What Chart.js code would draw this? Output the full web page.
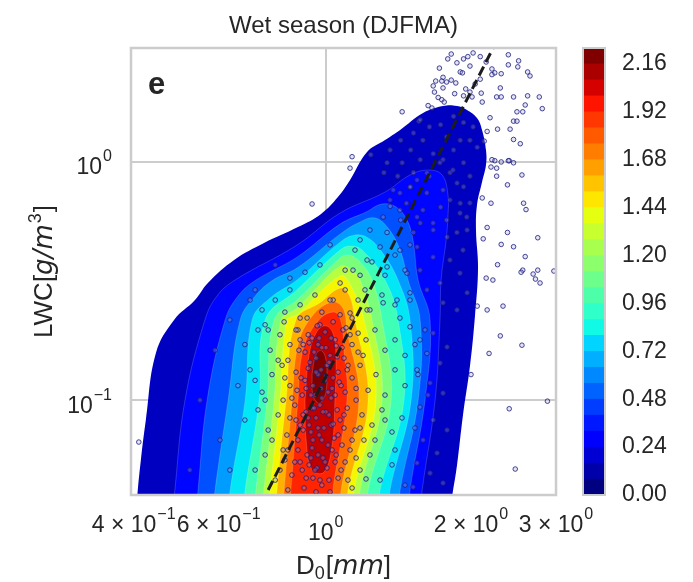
<!DOCTYPE html>
<html>
<head>
<meta charset="utf-8">
<script src="https://cdn.jsdelivr.net/npm/chart.js@4.4.1/dist/chart.umd.min.js"></script>
<style>
  html, body { margin: 0; padding: 0; background: #fff; }
  #wrap { position: relative; width: 693px; height: 582px; }
  #main { position: absolute; left: 0; top: 0; }
  #cbar { position: absolute; left: 575px; top: 0; }
</style>
</head>
<body>
<div id="wrap">
  <canvas id="main" width="693" height="582"></canvas>
  <canvas id="cbar" width="118" height="582"></canvas>
</div>
<script>
// ---- axes ----
const xRange = [0.395, 3.0];
const yRange = [0.04, 3.0];
const xGridValues = [1];
const yGridValues = [0.1, 1];
const xTickValues = [0.4, 0.6, 1, 2, 3];
const xTickMantissa = ['4 × 10', '6 × 10', '10', '2 × 10', '3 × 10'];
const xTickExponent = ['−1', '−1', '0', '0', '0'];
const yTickValues = [0.1, 1];
const yTickMantissa = ['10', '10'];
const yTickExponent = ['−1', '0'];

// ---- KDE colour levels ----
const colorbarLevels = [0, 0.08, 0.16, 0.24, 0.32, 0.40, 0.48, 0.56, 0.64, 0.72, 0.80, 0.88, 0.96, 1.04,
  1.12, 1.20, 1.28, 1.36, 1.44, 1.52, 1.60, 1.68, 1.76, 1.84, 1.92, 2.00, 2.08, 2.16, 2.24];
const colorbarTicks = [0, 0.24, 0.48, 0.72, 0.96, 1.20, 1.44, 1.68, 1.92, 2.16];
const contourLevels = [0.08, 0.24, 0.40, 0.56, 0.72, 0.88, 1.04, 1.20, 1.36, 1.52, 1.68, 1.84, 2.00, 2.16];

// density contours, [D0, LWC] around each level (outermost first)
const level008 = [[0.403,0.030],[0.408,0.042],[0.414,0.056],[0.424,0.0825],[0.445,0.158],[0.485,0.217],[0.536,0.263],
  [0.570,0.310],[0.646,0.387],[0.745,0.456],[0.876,0.532],[0.978,0.604],[1.060,0.711],[1.123,0.838],[1.218,1.098],
  [1.327,1.233],[1.426,1.359],[1.591,1.601],[1.750,1.713],[1.871,1.713],[1.962,1.648],[2.058,1.525],[2.108,1.359],
  [2.148,1.120],[2.148,0.969],[2.108,0.822],[2.058,0.658],[2.048,0.517],[2.068,0.358],[2.039,0.228],[1.991,0.140],
  [1.925,0.0866],[1.871,0.0534],[1.827,0.0392],[1.792,0.030]];
const level024 = [[0.480,0.030],[0.487,0.042],[0.511,0.100],[0.562,0.217],[0.595,0.273],[0.649,0.319],[0.872,0.447],
  [1.071,0.609],[1.327,0.746],[1.495,0.880],[1.630,0.923],[1.742,0.880],[1.792,0.725],[1.792,0.598],[1.776,0.469],
  [1.734,0.319],[1.725,0.217],[1.685,0.100],[1.584,0.042],[1.554,0.030]];
const level040 = [[0.536,0.030],[0.544,0.042],[0.568,0.100],[0.619,0.217],[0.658,0.273],[0.717,0.319],[0.872,0.398],
  [1.071,0.548],[1.212,0.615],[1.308,0.665],[1.399,0.646],[1.474,0.569],[1.517,0.469],[1.554,0.319],[1.645,0.217],
  [1.606,0.100],[1.495,0.042],[1.474,0.030]];
const level056 = [[0.581,0.030],[0.590,0.042],[0.628,0.100],[0.665,0.217],[0.714,0.273],[0.778,0.319],[0.872,0.358],
  [1.071,0.497],[1.178,0.559],[1.265,0.581],[1.346,0.527],[1.426,0.426],[1.481,0.319],[1.569,0.217],[1.554,0.100],
  [1.426,0.042],[1.405,0.030]];
const level072 = [[0.625,0.030],[0.634,0.042],[0.681,0.100],[0.704,0.217],[0.767,0.268],[0.872,0.319],[1.071,0.460],
  [1.150,0.493],[1.224,0.479],[1.308,0.418],[1.412,0.319],[1.495,0.217],[1.503,0.100],[1.359,0.042],[1.340,0.030]];
const level088 = [[0.671,0.030],[0.681,0.042],[0.728,0.100],[0.749,0.217],[0.872,0.290],[1.071,0.426],[1.123,0.443],
  [1.189,0.426],[1.327,0.319],[1.412,0.217],[1.453,0.100],[1.296,0.042],[1.278,0.030]];
const level104 = [[0.707,0.030],[0.717,0.042],[0.756,0.100],[0.782,0.217],[0.872,0.263],[1.071,0.395],[1.112,0.406],
  [1.167,0.387],[1.247,0.319],[1.308,0.217],[1.366,0.100],[1.224,0.042],[1.212,0.030]];
const level120 = [[0.735,0.030],[0.745,0.042],[0.782,0.100],[0.808,0.217],[0.872,0.243],[1.071,0.365],[1.134,0.351],
  [1.178,0.319],[1.247,0.217],[1.308,0.100],[1.178,0.042],[1.167,0.030]];
const level136 = [[0.756,0.030],[0.767,0.042],[0.804,0.100],[0.831,0.217],[0.872,0.228],[1.071,0.332],[1.123,0.307],
  [1.201,0.217],[1.271,0.100],[1.145,0.042],[1.134,0.030]];
const level152 = [[0.785,0.030],[0.793,0.042],[0.828,0.100],[0.868,0.217],[0.973,0.256],[1.071,0.295],[1.118,0.276],
  [1.150,0.217],[1.224,0.100],[1.112,0.042],[1.102,0.030]];
const level168 = [[0.808,0.030],[0.820,0.042],[0.852,0.100],[0.876,0.170],[0.937,0.225],[1.031,0.258],[1.086,0.243],
  [1.107,0.197],[1.172,0.100],[1.076,0.042],[1.066,0.030]];
const level184 = [[0.835,0.030],[0.847,0.042],[0.876,0.100],[0.897,0.162],[0.964,0.215],[1.040,0.234],[1.076,0.213],
  [1.091,0.162],[1.107,0.100],[1.035,0.042],[1.026,0.030]];
const level200 = [[0.906,0.100],[0.924,0.155],[0.955,0.191],[0.997,0.205],[1.035,0.191],[1.050,0.155],[1.045,0.100],
  [1.031,0.0648],[0.992,0.0499],[0.937,0.0509],[0.911,0.068]];
const level216 = [[0.937,0.128],[0.950,0.151],[0.973,0.162],[0.997,0.153],[1.006,0.128],[0.997,0.105],[0.969,0.097],
  [0.941,0.105]];
const contourPaths = [level008, level024, level040, level056, level072, level088, level104, level120,
  level136, level152, level168, level184, level200, level216];

// ---- observations: D0 [mm], LWC [g/m3] ----
const outsidePoints = [[1.82,2.83],[1.79,2.70],[1.87,2.60],[1.93,2.70],[1.97,2.76],[2.02,2.86],[2.09,2.76],[2.39,2.81],
  [2.51,2.65],[2.39,2.55],[2.50,2.50],[2.62,2.38],[2.65,2.29],[2.21,2.45],[2.24,2.36],[2.31,2.34],[2.21,2.32],[1.90,2.38],
  [1.92,2.36],[1.72,2.47],[1.75,2.26],[1.69,2.18],[1.74,2.18],[1.78,2.16],[1.82,2.20],[1.86,2.14],[1.67,2.08],[1.68,1.96],
  [1.75,2.04],[1.95,2.02],[1.99,1.96],[2.04,2.12],[2.09,2.22],[2.10,1.94],[1.85,1.93],[1.93,1.89],[2.01,1.87],[1.71,1.86],
  [1.74,1.82],[1.76,1.78],[1.63,1.72],[1.66,1.68],[1.44,1.62],[1.56,1.48],[2.30,2.04],[2.26,1.87],[2.31,1.87],[2.45,1.87],
  [2.62,1.89],[2.77,1.87],[2.59,1.73],[2.81,1.67],[2.49,1.62],[2.56,1.62],[2.11,1.78],[2.19,1.53],[2.45,1.48],[2.49,1.48],
  [2.41,1.37],[2.27,1.37],[2.16,1.34],[2.45,1.24],[2.53,1.19],[2.13,1.22],[2.24,1.01],[2.31,0.998],[2.40,1.01],[2.45,0.99],
  [2.26,0.94],[2.26,0.87],[2.55,0.88],[2.38,0.80],[2.11,0.705],[2.20,0.67],[2.57,0.67],[2.60,0.63],[2.16,0.53],[2.38,0.505],
  [2.75,0.48],[2.12,0.475],[2.31,0.45],[2.45,0.44],[2.59,0.40],[2.27,0.37],[2.15,0.325],[2.22,0.319],[2.56,0.351],
  [2.54,0.344],[2.69,0.338],[2.75,0.351],[2.72,0.322],[2.78,0.31],[2.97,0.348],[2.33,0.248],[2.16,0.239],[2.06,0.248],
  [2.30,0.186],[2.55,0.170],[2.18,0.157],[2.00,0.128],[2.88,0.099],[2.40,0.092],[2.47,0.0514],[0.937,0.665],[1.134,1.05],
  [1.24,1.07],[1.123,0.94],[0.41,0.0667],[2.21,1.02],[2.39,1.01],[2.20,0.95],[2.15,2.62],[1.99,2.52]];
const upperPoints = [[1.57,1.50],[1.64,1.40],[1.73,1.43],[1.84,1.55],[1.93,1.46],[2.02,1.40],[1.52,1.32],[1.43,1.23],
  [1.59,1.23],[1.78,1.27],[1.90,1.23],[1.99,1.23],[1.36,1.12],[1.50,1.12],[1.67,1.08],[1.84,1.12],[2.06,1.15],[1.34,0.99],
  [1.44,0.99],[1.57,1.02],[1.75,1.02],[1.93,0.99],[1.32,0.90],[1.41,0.87],[1.52,0.90],[1.64,0.87],[1.81,0.90],[1.99,0.87],
  [1.38,0.761],[1.50,0.785],[1.62,0.74],[1.75,0.761],[1.93,0.785],[1.36,0.65],[1.47,0.67],[1.59,0.627],[1.73,0.645],
  [1.90,0.67],[1.43,0.569],[1.57,0.553],[1.78,0.569],[1.96,0.586],[1.34,0.505],[1.52,0.505],[1.67,0.517],[1.87,0.505],
  [1.359,0.691],[1.425,0.739],[1.495,0.783],[1.546,0.838],[1.621,0.897],[1.725,0.991],[1.835,0.923],[1.871,0.814],
  [1.809,0.691],[1.898,0.609],[1.963,0.517],[1.784,0.483],[1.669,0.553],[1.546,0.586],[1.425,0.627],[1.315,0.586],
  [1.235,0.517],[1.178,0.470],[1.296,0.439],[1.425,0.426],[1.546,0.439],[1.669,0.398],[1.809,0.387],[1.898,0.341],
  [1.725,0.310],[1.621,0.290],[1.495,0.282],[1.405,0.263],[1.315,0.256],[1.218,0.239],[1.123,0.232],[1.036,0.263],
  [1.071,0.310],[1.139,0.351],[1.218,0.387],[1.340,0.362],[1.474,0.341],[1.568,0.351],[1.750,0.256],[1.871,0.239],
  [1.963,0.282],[1.925,0.426],[1.990,0.671]];
const rightPoints = [[1.495,0.203],[1.568,0.179],[1.669,0.191],[1.621,0.157],[1.725,0.143],[1.784,0.167],[1.546,0.134],
  [1.645,0.118],[1.750,0.107],[1.568,0.0935],[1.669,0.0825],[1.784,0.0749],[1.591,0.068],[1.701,0.060],[1.546,0.0545],
  [1.645,0.0494],[1.750,0.0449],[1.517,0.0432]];
const corePoints = [[1.021,0.448],[1.150,0.426],[1.247,0.380],[1.392,0.406],[1.495,0.448],[1.097,0.351],[1.178,0.334],
  [1.327,0.334],[1.460,0.351],[0.973,0.369],[0.906,0.344],[0.843,0.325],
  [0.786,0.263],[0.843,0.290],[0.885,0.251],[0.950,0.276],[1.021,0.263],[1.097,0.290],[1.167,0.263],[1.235,0.239],
  [1.308,0.276],[1.392,0.251],[1.495,0.263],[0.885,0.221],[0.982,0.234],[1.071,0.228],[1.134,0.221],[1.206,0.290],
  [1.425,0.221],[0.823,0.234],[0.738,0.239],
  [0.680,0.171],[0.724,0.197],[0.767,0.162],[0.804,0.188],[0.843,0.171],[0.876,0.197],[0.906,0.159],[0.937,0.182],
  [0.964,0.171],[0.997,0.193],[1.021,0.154],[1.046,0.179],[1.081,0.166],[1.123,0.188],[1.167,0.159],[1.212,0.179],
  [1.265,0.197],[1.327,0.162],[1.392,0.179],[1.460,0.154],[1.531,0.171],[1.606,0.197],[0.749,0.207],[0.885,0.179],
  [0.973,0.207],
  [0.658,0.115],[0.697,0.134],[0.738,0.108],[0.774,0.128],[0.812,0.140],[0.843,0.115],[0.868,0.131],[0.894,0.105],
  [0.920,0.136],[0.941,0.115],[0.964,0.128],[0.982,0.102],[1.006,0.140],[1.031,0.112],[1.061,0.131],[1.097,0.108],
  [1.134,0.124],[1.178,0.140],[1.224,0.110],[1.271,0.128],[1.327,0.105],[1.392,0.134],[1.460,0.115],[1.553,0.128],
  [1.629,0.105],[0.928,0.144],[0.997,0.121],[1.046,0.105],
  [0.680,0.0825],[0.724,0.091],[0.760,0.0749],[0.797,0.0867],[0.831,0.0714],[0.863,0.0953],[0.885,0.0786],
  [0.911,0.0893],[0.932,0.0735],[0.955,0.0842],[0.973,0.0953],[0.992,0.0764],[1.016,0.0867],[1.041,0.0693],
  [1.071,0.0825],[1.108,0.0926],[1.150,0.0749],[1.189,0.0867],[1.247,0.0786],[1.308,0.091],[1.372,0.0735],
  [1.439,0.0842],[1.531,0.0764],[0.937,0.0926],[0.982,0.068],[0.876,0.068],
  [0.714,0.0509],[0.749,0.0589],[0.786,0.0462],[0.823,0.0561],[0.851,0.0485],[0.876,0.0618],[0.902,0.0428],
  [0.924,0.0535],[0.941,0.0471],[0.964,0.0589],[0.982,0.0440],[1.006,0.0519],[1.031,0.0618],[1.061,0.0471],
  [1.097,0.0550],[1.134,0.0428],[1.178,0.0509],[1.235,0.0589],[1.296,0.0462],[1.372,0.0535],[1.460,0.0440],
  [0.885,0.0550],[0.955,0.0412],[0.835,0.0420],
  [0.549,0.100],[0.590,0.162],[0.633,0.217],[0.714,0.290],[0.604,0.068],[0.523,0.0509],[0.633,0.0509],[0.786,0.369],
  [0.697,0.263],
  [0.898,0.171],[0.920,0.188],[0.946,0.159],[0.969,0.182],[1.001,0.166],[1.026,0.182],[1.056,0.152],[1.086,0.197],
  [0.889,0.124],[0.911,0.112],[0.950,0.105],[0.978,0.134],[1.011,0.108],[1.036,0.124],[1.076,0.115],[1.112,0.140],
  [0.898,0.0867],[0.924,0.0786],[0.946,0.0926],[0.969,0.0714],[1.001,0.0893],[1.026,0.0786],[1.056,0.091],
  [1.091,0.0764],[0.894,0.0509],[0.915,0.0589],[0.937,0.0630],[0.959,0.0519],[0.987,0.0572],[1.016,0.0462],
  [1.046,0.0550],[1.081,0.0648],[0.868,0.0825],[0.851,0.102],[0.835,0.0618],[1.123,0.0618],[1.156,0.100],
  [1.200,0.068],[0.804,0.0509],[0.816,0.100],
  [0.820,0.213],[0.868,0.197],[0.915,0.221],[0.960,0.205],[1.036,0.213],[1.102,0.201],[1.167,0.191],[0.835,0.147],
  [0.880,0.162],[0.924,0.174],[0.955,0.150],[0.982,0.166],[1.016,0.144],[1.051,0.169],[1.091,0.150],[1.134,0.171],
  [1.195,0.154],[0.823,0.124],[0.872,0.110],[0.906,0.121],[0.932,0.105],[0.955,0.131],[0.978,0.112],[1.001,0.126],
  [1.026,0.102],[1.066,0.119],[1.108,0.134],[1.156,0.112],[0.843,0.0842],[0.898,0.0749],[0.920,0.0842],[0.941,0.068],
  [0.964,0.0764],[0.987,0.0893],[1.011,0.0648],[1.036,0.0794],[1.061,0.0714],[1.091,0.0867],[1.134,0.068],
  [1.178,0.0764],[0.816,0.0618],[0.863,0.0550],[0.911,0.0471],[0.932,0.0572],[0.950,0.0509],[0.973,0.0462],
  [0.997,0.0550],[1.021,0.0412],[1.051,0.0589],[1.076,0.0509],[1.112,0.0462],[1.156,0.0572],[1.212,0.0467],
  [1.265,0.068],[1.327,0.0825],[1.392,0.0618],[0.774,0.068],[0.749,0.100],[0.714,0.121],[0.797,0.147],[0.760,0.197]];

// power-law fit LWC = a * D0^b, two end points
const fitD0 = [0.76, 2.25];
const fitLWC = [0.042, 3.15];

// ---- styling ----
const SANS = '"Liberation Sans", Arial, Helvetica, sans-serif';
const MATH = '"DejaVu Sans", sans-serif';
const TEXT = '#262626';
const EDGE = '#cccccc';
Chart.defaults.font.family = SANS;
Chart.defaults.color = TEXT;

function jet(v) {
  const r = v < 0.35 ? 0 : v < 0.66 ? (v - 0.35) / 0.31 : v < 0.89 ? 1 : 1 - (v - 0.89) / 0.11 * 0.5;
  const g = v < 0.125 ? 0 : v < 0.375 ? (v - 0.125) / 0.25 : v < 0.64 ? 1 : v < 0.91 ? 1 - (v - 0.64) / 0.27 : 0;
  const b = v < 0.11 ? 0.5 + v / 0.11 * 0.5 : v < 0.34 ? 1 : v < 0.65 ? 1 - (v - 0.34) / 0.31 : 0;
  return 'rgb(' + Math.round(r * 255) + ',' + Math.round(g * 255) + ',' + Math.round(b * 255) + ')';
}
// colour of a band, from its mid value on the colorbar range
const nLev = colorbarLevels.length;
const midLo = (colorbarLevels[0] + colorbarLevels[1]) / 2;
const midHi = (colorbarLevels[nLev - 2] + colorbarLevels[nLev - 1]) / 2;
const bandColor = (lo, hi) => jet(((lo + hi) / 2 - midLo) / (midHi - midLo));

const toXY = arr => arr.map(([x, y]) => ({x, y}));

const contourSets = contourPaths.map((path, j) => {
  const pts = toXY(path);
  pts.push(pts[0]);
  const lo = contourLevels[j];
  const hi = j + 1 < contourLevels.length ? contourLevels[j + 1] : colorbarLevels[nLev - 1];
  const col = bandColor(lo, hi);
  return {
    data: pts, showLine: true, fill: 'shape', tension: 0.4,
    backgroundColor: col, borderColor: j ? 'rgba(255,255,255,0.22)' : col, borderWidth: j ? 0.8 : 0,
    pointRadius: 0, order: 100 - j
  };
});

const scatterSet = {
  data: toXY(outsidePoints.concat(upperPoints, rightPoints, corePoints)),
  pointRadius: 2.3, pointBorderWidth: 1,
  borderColor: 'rgba(28,28,125,0.8)', backgroundColor: 'rgba(165,165,225,0.3)',
  order: 1
};

const fitSet = {
  data: fitD0.map((x, i) => ({x, y: fitLWC[i]})),
  showLine: true, borderColor: '#1c1c1c', borderWidth: 3, borderDash: [10, 5],
  pointRadius: 0, order: 0
};

function drawRuns(ctx, runs, x, y, align) {
  let total = 0;
  runs.forEach(r => { ctx.font = r.font; r.w = ctx.measureText(r.text).width; total += r.w + (r.gap || 0); });
  let cx = align === 'center' ? x - total / 2 : align === 'right' ? x - total : x;
  runs.forEach(r => {
    ctx.font = r.font;
    cx += r.gap || 0;
    ctx.fillText(r.text, cx, y + (r.dy || 0));
    cx += r.w;
  });
}

const decorations = {
  id: 'decorations',
  afterDraw(chart) {
    const {ctx, chartArea: a, scales} = chart;
    ctx.save();
    ctx.strokeStyle = EDGE;
    ctx.lineWidth = 2.5;
    ctx.strokeRect(a.left, a.top, a.right - a.left, a.bottom - a.top);

    ctx.fillStyle = TEXT;
    ctx.textAlign = 'left';
    ctx.textBaseline = 'alphabetic';
    const tickFont = '23px ' + SANS, expFont = '16px ' + SANS;

    xTickValues.forEach((v, i) => {
      const px = scales.x.getPixelForValue(v);
      const major = xTickMantissa[i] === '10';
      const base = a.bottom + (major ? 45 : 37);
      drawRuns(ctx, [{text: xTickMantissa[i], font: tickFont},
                     {text: xTickExponent[i], font: expFont, dy: -13, gap: 1}], px, base, 'center');
    });
    yTickValues.forEach((v, i) => {
      const py = scales.y.getPixelForValue(v);
      drawRuns(ctx, [{text: yTickMantissa[i], font: tickFont},
                     {text: yTickExponent[i], font: expFont, dy: -13, gap: 1}], a.left - 19, py + 12.5, 'right');
    });

    const cx = (a.left + a.right) / 2;
    drawRuns(ctx, [{text: 'Wet season (DJFMA)', font: '24px ' + SANS}], cx, 33, 'center');
    drawRuns(ctx, [{text: 'D', font: '26px ' + SANS},
                   {text: '0', font: '18px ' + SANS, dy: 5},
                   {text: '[', font: '26px ' + SANS, gap: 1},
                   {text: 'mm', font: 'italic 26px ' + MATH},
                   {text: ']', font: '26px ' + SANS}], cx, a.bottom + 79, 'center');

    ctx.save();
    ctx.translate(52, (a.top + a.bottom) / 2);
    ctx.rotate(-Math.PI / 2);
    drawRuns(ctx, [{text: 'LWC[', font: '26px ' + SANS},
                   {text: 'g/m', font: 'italic 26px ' + MATH},
                   {text: '3', font: '18px ' + SANS, dy: -11, gap: 1},
                   {text: ']', font: '26px ' + SANS, gap: 1}], 0, 0, 'center');
    ctx.restore();

    ctx.font = 'bold 31px ' + SANS;
    ctx.fillText('e', a.left + 17, a.top + 46);
    ctx.restore();
  }
};

new Chart(document.getElementById('main'), {
  type: 'scatter',
  data: {datasets: [...contourSets, scatterSet, fitSet]},
  options: {
    responsive: false,
    animation: false,
    events: [],
    layout: {padding: {left: 131, right: 137, top: 48, bottom: 87}},
    elements: {line: {capBezierPoints: false}},
    plugins: {legend: {display: false}, tooltip: {enabled: false}},
    scales: {
      x: {
        type: 'logarithmic', min: xRange[0], max: xRange[1],
        ticks: {display: false},
        grid: {color: EDGE, lineWidth: 2, drawTicks: false},
        border: {display: false},
        afterBuildTicks: s => { s.ticks = xGridValues.map(v => ({value: v})); },
        afterFit: s => { s.height = 0; }
      },
      y: {
        type: 'logarithmic', min: yRange[0], max: yRange[1],
        ticks: {display: false},
        grid: {color: EDGE, lineWidth: 2, drawTicks: false},
        border: {display: false},
        afterBuildTicks: s => { s.ticks = yGridValues.map(v => ({value: v})); },
        afterFit: s => { s.width = 0; }
      }
    }
  },
  plugins: [decorations]
});

// ---- colorbar ----
const cbarFrame = {
  id: 'cbarFrame',
  afterDraw(chart) {
    const {ctx, chartArea: a} = chart;
    ctx.save();
    ctx.strokeStyle = EDGE;
    ctx.lineWidth = 2;
    ctx.strokeRect(a.left, a.top, a.right - a.left, a.bottom - a.top);
    ctx.restore();
  }
};

new Chart(document.getElementById('cbar'), {
  type: 'bar',
  data: {
    labels: [''],
    datasets: colorbarLevels.slice(0, -1).map((lo, i) => ({
      data: [[lo, colorbarLevels[i + 1]]],
      backgroundColor: bandColor(lo, colorbarLevels[i + 1]),
      borderWidth: 0, barPercentage: 1, categoryPercentage: 1
    }))
  },
  options: {
    responsive: false,
    animation: false,
    events: [],
    layout: {padding: {left: 8, right: 23, top: 48, bottom: 87}},
    plugins: {legend: {display: false}, tooltip: {enabled: false}},
    scales: {
      x: {display: false, stacked: true},
      y: {
        position: 'right', min: colorbarLevels[0], max: colorbarLevels[nLev - 1],
        grid: {display: false, drawTicks: false},
        border: {display: false},
        ticks: {padding: 17, color: TEXT, font: {size: 23}, callback: v => Number(v).toFixed(2)},
        afterBuildTicks: s => { s.ticks = colorbarTicks.map(v => ({value: v})); },
        afterFit: s => { s.width = 65; }
      }
    }
  },
  plugins: [cbarFrame]
});
</script>
</body>
</html>
